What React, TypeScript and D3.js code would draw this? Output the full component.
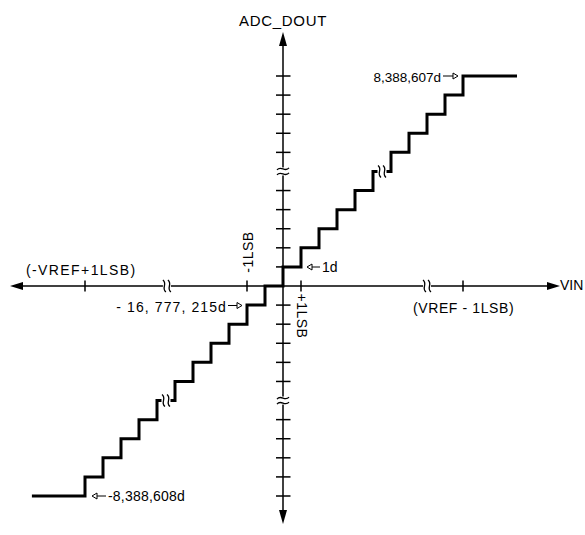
import React from "react";
import * as d3 from "d3";

// ---- data (LSB units on VIN, output code levels on ADC_DOUT) ----
const transitionsLSB = [-11, -10, -9, -8, -7, -6, -5, -4, -3, -2, -1, 0, 1, 2, 3, 4, 5, 6, 7, 8, 9, 10];
const levelsAfter = [-10, -9, -8, -7, -6, -5, -4, -3, -2, -1, 0, 1, 2, 3, 4, 5, 6, 7, 8, 9, 10, 11];
const startLSB = -13.95;
const startLevel = -11;
const endLSB = 13;

const yTickLevels = [-11, -10, -9, -8, -7, -5, -4, -3, -2, -1, 1, 2, 3, 4, 5, 7, 8, 9, 10, 11];
const yBreakLevels = [6, -6];
const xTickLSB = [-11, -2, 1, 10];
const xBreakLSB = [-6.45, 8];
const stairBreaks = [
  { lsb: 5.5, level: 6 },
  { lsb: -6.5, level: -6 },
];

const W = 585;
const H = 535;
const FONT = "'Liberation Sans', Arial, Helvetica, sans-serif";

export default function App() {
  const x = d3.scaleLinear().domain([-11, 10]).range([85, 463]);
  const y = d3.scaleLinear().domain([-11, 11]).range([496, 76]);
  const x0 = x(0);
  const y0 = y(0);

  const pts: [number, number][] = [[startLSB, startLevel]];
  transitionsLSB.forEach((t, i) => pts.push([t, levelsAfter[i]]));
  pts.push([endLSB, levelsAfter[levelsAfter.length - 1]]);
  const stair = d3
    .line<[number, number]>()
    .x((d) => x(d[0]))
    .y((d) => y(d[1]))
    .curve(d3.curveStepAfter)(pts) as string;

  const sCurve = (cx: number, cy: number, h: number) =>
    `M${cx - 1.5},${cy - h} C${cx + 3.5},${cy - h / 3} ${cx - 3.5},${cy + h / 3} ${cx + 1.5},${cy + h}`;
  const tilde = (cx: number, cy: number, w: number) =>
    `M${cx - w},${cy + 1} C${cx - w / 3},${cy - 4} ${cx + w / 3},${cy + 4} ${cx + w},${cy - 1}`;

  const pointer = (tail: number, tip: number, yy: number) => {
    const dir = tip > tail ? 1 : -1;
    const hl = 5;
    const hw = 3;
    return (
      <g>
        <line x1={tail} y1={yy} x2={tip - dir * hl} y2={yy} stroke="#000" strokeWidth={1} />
        <path
          d={`M${tip},${yy} L${tip - dir * hl},${yy - hw} L${tip - dir * hl},${yy + hw} Z`}
          fill="#fff"
          stroke="#000"
          strokeWidth={1}
        />
      </g>
    );
  };

  return (
    <svg
      width={W}
      height={H}
      style={{ position: "absolute", left: 0, top: 0, background: "#fff" }}
      fontFamily={FONT}
    >
      <rect width={W} height={H} fill="#fff" />

      {/* X axis */}
      <line x1={20} y1={y0} x2={550} y2={y0} stroke="#000" strokeWidth={1.5} />
      <path d={`M10,${y0} L23,${y0 - 4} L23,${y0 + 4} Z`} fill="#000" />
      <path d={`M560,${y0} L547,${y0 - 4} L547,${y0 + 4} Z`} fill="#000" />
      {xTickLSB.map((t) => (
        <line key={t} x1={x(t)} x2={x(t)} y1={y0 - 5.5} y2={y0 + 5.5} stroke="#000" strokeWidth={1.5} />
      ))}
      {xBreakLSB.map((t) => (
        <g key={t}>
          <rect x={x(t) - 4} y={y0 - 2} width={8} height={4} fill="#fff" />
          <path d={sCurve(x(t) - 2.5, y0, 6)} fill="none" stroke="#000" strokeWidth={1.3} />
          <path d={sCurve(x(t) + 2.5, y0, 6)} fill="none" stroke="#000" strokeWidth={1.3} />
        </g>
      ))}

      {/* Y axis */}
      <line x1={x0} y1={42} x2={x0} y2={514} stroke="#000" strokeWidth={1.5} />
      <path d={`M${x0},32 L${x0 - 4},46 L${x0 + 4},46 Z`} fill="#000" />
      <path d={`M${x0},524 L${x0 - 4},510 L${x0 + 4},510 Z`} fill="#000" />
      {yTickLevels.map((l) => (
        <line key={l} x1={x0 - 7} x2={x0 + 7.5} y1={y(l)} y2={y(l)} stroke="#000" strokeWidth={1.5} />
      ))}
      {yBreakLevels.map((l) => (
        <g key={l}>
          <rect x={x0 - 2} y={y(l) - 4} width={4} height={8} fill="#fff" />
          <path d={tilde(x0, y(l) - 2.5, 6)} fill="none" stroke="#000" strokeWidth={1.3} />
          <path d={tilde(x0, y(l) + 2.5, 6)} fill="none" stroke="#000" strokeWidth={1.3} />
        </g>
      ))}

      {/* staircase */}
      <path d={stair} fill="none" stroke="#000" strokeWidth={3} strokeLinejoin="miter" />
      {stairBreaks.map((b) => (
        <g key={b.lsb}>
          <rect x={x(b.lsb) - 4.5} y={y(b.level) - 3} width={9} height={6} fill="#fff" />
          <path d={sCurve(x(b.lsb) - 2.5, y(b.level), 6)} fill="none" stroke="#000" strokeWidth={1.3} />
          <path d={sCurve(x(b.lsb) + 2.5, y(b.level), 6)} fill="none" stroke="#000" strokeWidth={1.3} />
        </g>
      ))}

      {/* labels */}
      <text x={x0} y={26} fontSize={15} textAnchor="middle" letterSpacing={0.7}>
        ADC_DOUT
      </text>
      <text x={560} y={290} fontSize={14}>
        VIN
      </text>
      <text x={26} y={275} fontSize={14} letterSpacing={1.4}>
        (-VREF+1LSB)
      </text>
      <text x={413} y={313} fontSize={14} letterSpacing={0.6}>
        (VREF - 1LSB)
      </text>
      <text transform={`translate(253,252) rotate(-90)`} fontSize={14} textAnchor="middle" letterSpacing={0.5}>
        -1LSB
      </text>
      <text transform={`translate(297,316) rotate(90)`} fontSize={14} textAnchor="middle" letterSpacing={0.5}>
        +1LSB
      </text>

      {/* code annotations */}
      <text x={441} y={81.5} fontSize={13.5} textAnchor="end">
        8,388,607d
      </text>
      {pointer(443, 458, 76)}
      <text x={322} y={271.5} fontSize={14}>
        1d
      </text>
      {pointer(320, 307, 267)}
      <text x={227} y={311.5} fontSize={14} textAnchor="end" letterSpacing={1.1}>
        - 16, 777, 215d
      </text>
      {pointer(228, 242, 305.5)}
      <text x={108} y={500.5} fontSize={14} letterSpacing={0.2}>
        -8,388,608d
      </text>
      {pointer(106, 92, 496)}
    </svg>
  );
}
